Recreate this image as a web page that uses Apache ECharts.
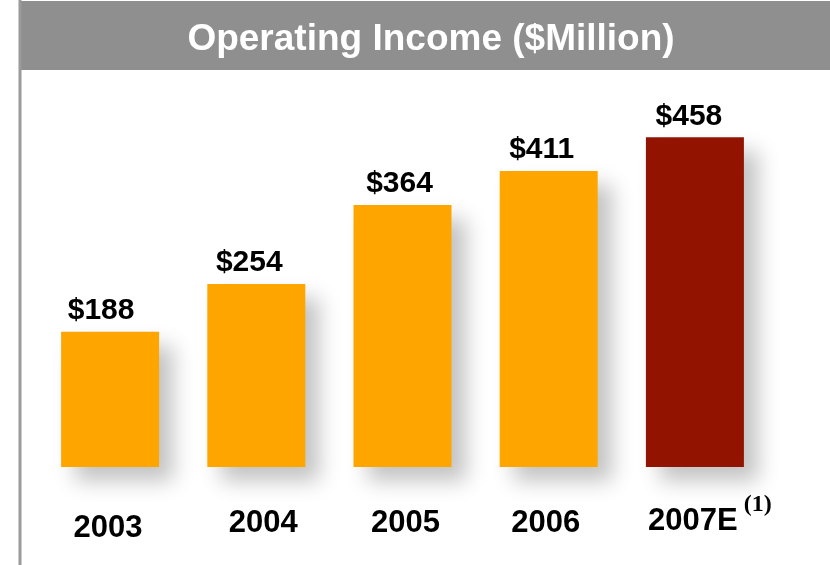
<!DOCTYPE html>
<html>
<head>
<meta charset="utf-8">
<title>Operating Income</title>
<script src="https://cdn.jsdelivr.net/npm/echarts@6/dist/echarts.min.js"></script>
<style>
  html, body { margin: 0; padding: 0; background: #ffffff; }
  #chart { width: 830px; height: 565px; }
</style>
</head>
<body>
<div id="chart"></div>
<script>
// Operating income by year, $ million
var years = ['2003', '2004', '2005', '2006', '2007E'];
var income = [188, 254, 364, 411, 458];
var footnote = '(1)';

var orange = '#FFA500';
var estimateRed = '#921400';
var sans = 'Liberation Sans, Arial, Helvetica, sans-serif';

// Small hand-placed nudges for the year labels and value labels
var yearPad = [[20, 4, 0, 0], [15, 0, 0, 14], [15, 0, 0, 6], [15, 6, 0, 0], [0, 0, 0, 30]];
var valueShift = [-9, -7, -3, -7, -6];

var chart = echarts.init(document.getElementById('chart'), null, { renderer: 'canvas' });

var option = {
  animation: false,
  backgroundColor: '#ffffff',
  graphic: [
    { type: 'rect', shape: { x: 19, y: 1, width: 811, height: 69 }, style: { fill: '#8F8F8F' }, z: 0 },
    { type: 'line', shape: { x1: 20, y1: 0, x2: 20, y2: 565 }, style: { stroke: '#9A9A9A', lineWidth: 3 }, z: 1 }
  ],
  title: {
    text: 'Operating Income ($Million)',
    left: 426,
    top: 16,
    textAlign: 'center',
    textStyle: {
      color: '#ffffff',
      fontFamily: sans,
      fontWeight: 'bold',
      fontSize: 37
    }
  },
  grid: { left: 37, right: 62, top: 107, bottom: 98 },
  xAxis: {
    type: 'category',
    data: years.map(function (y, i) {
      return { value: y, textStyle: { padding: yearPad[i] } };
    }),
    axisLine: { show: false },
    axisTick: { show: false },
    axisLabel: {
      interval: 0,
      margin: 26,
      color: '#000000',
      fontFamily: sans,
      fontWeight: 'bold',
      fontSize: 31,
      formatter: function (v, i) {
        return i === years.length - 1 ? '{a|' + v + '}{sup|' + footnote + '}' : v;
      },
      rich: {
        a: { fontFamily: sans, fontWeight: 'bold', fontSize: 31, color: '#000', verticalAlign: 'top', padding: [13, 0, 0, 0] },
        sup: { fontFamily: 'Liberation Serif, Times New Roman, serif', fontWeight: 'bold', fontSize: 24, color: '#000', verticalAlign: 'top', padding: [0, 0, 0, 6] }
      }
    }
  },
  yAxis: {
    type: 'value',
    min: 0,
    max: 500,
    show: false,
    splitLine: { show: false }
  },
  series: [{
    type: 'bar',
    barWidth: 98,
    data: income.map(function (v, i) {
      return {
        value: v,
        itemStyle: { color: i === income.length - 1 ? estimateRed : orange },
        label: { offset: [valueShift[i], 0] }
      };
    }),
    itemStyle: {
      shadowColor: 'rgba(0,0,0,0.24)',
      shadowBlur: 20,
      shadowOffsetX: 14,
      shadowOffsetY: 14
    },
    label: {
      show: true,
      position: 'top',
      distance: 6,
      color: '#000000',
      fontFamily: sans,
      fontWeight: 'bold',
      fontSize: 30,
      formatter: function (p) { return '$' + p.value; }
    }
  }]
};

chart.setOption(option);
</script>
</body>
</html>
